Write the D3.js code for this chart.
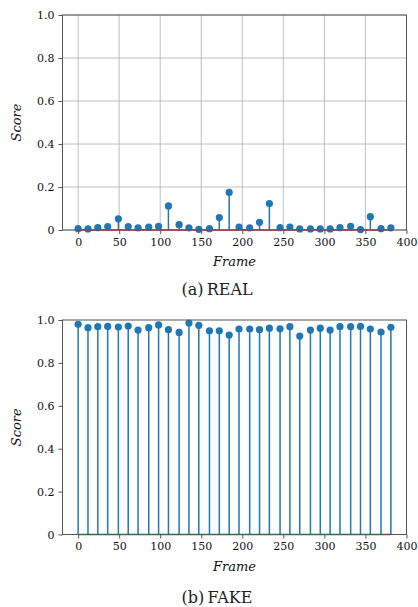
<!DOCTYPE html>
<html><head><meta charset="utf-8">
<script src="https://cdn.jsdelivr.net/npm/d3@7"></script>
<style>body{margin:0;background:#fff}svg{display:block}</style>
</head><body>
<script>
const frames = [0,12,24,36,49,61,73,86,98,110,123,135,147,160,172,184,196,209,221,233,246,258,270,283,295,307,319,332,344,356,369,381];
const realScores = [0.006,0.005,0.011,0.016,0.052,0.016,0.010,0.013,0.017,0.112,0.025,0.010,0.003,0.006,0.058,0.175,0.014,0.010,0.036,0.123,0.011,0.014,0.005,0.005,0.005,0.005,0.011,0.017,0.002,0.062,0.006,0.010];
const fakeScores = [0.980,0.964,0.969,0.970,0.967,0.972,0.953,0.964,0.977,0.955,0.942,0.986,0.975,0.950,0.950,0.930,0.958,0.958,0.955,0.962,0.959,0.969,0.925,0.953,0.962,0.953,0.969,0.969,0.970,0.958,0.944,0.966];
const xTicks = [0,50,100,150,200,250,300,350,400];
const yTicks = [0,0.2,0.4,0.6,0.8,1.0];
const panels = [
  {values: realScores, caption: "(a)\u2009REAL", grid: true, top: 15, bottom: 230, captionY: 295},
  {values: fakeScores, caption: "(b)\u2009FAKE", grid: false, top: 320, bottom: 534.5, captionY: 603}
];

const W = 418, H = 607;
const svg = d3.select("body").append("svg").attr("width", W).attr("height", H);
const left = 62.5, right = 406.5;
const font = "'DejaVu Serif', serif";
const blue = "#1f77b4", red = "#d62728";

panels.forEach(p => {
  const x = d3.scaleLinear().domain([-19.05, 400.05]).range([left, right]);
  const y = d3.scaleLinear().domain([0, 1]).range([p.bottom, p.top]);
  const g = svg.append("g");

  if (p.grid) {
    g.selectAll(".vg").data(xTicks).join("line")
      .attr("x1", d => x(d)).attr("x2", d => x(d)).attr("y1", p.top).attr("y2", p.bottom)
      .attr("stroke", "#b0b0b0").attr("stroke-width", 0.8);
    g.selectAll(".hg").data(yTicks).join("line")
      .attr("x1", left).attr("x2", right).attr("y1", d => y(d)).attr("y2", d => y(d))
      .attr("stroke", "#b0b0b0").attr("stroke-width", 0.8);
  }

  g.selectAll(".stem").data(frames).join("line")
    .attr("x1", d => x(d)).attr("x2", d => x(d))
    .attr("y1", y(0)).attr("y2", (d, i) => y(p.values[i]))
    .attr("stroke", blue).attr("stroke-width", 1.5);
  g.append("line").attr("x1", x(frames[0])).attr("x2", x(frames[frames.length - 1]))
    .attr("y1", y(0)).attr("y2", y(0)).attr("stroke", red).attr("stroke-width", 1.5);
  g.selectAll(".mk").data(frames).join("circle")
    .attr("cx", d => x(d)).attr("cy", (d, i) => y(p.values[i])).attr("r", 3.6)
    .attr("fill", blue);

  const spine = "#555";
  g.append("rect").attr("x", left).attr("y", p.top).attr("width", right - left).attr("height", p.bottom - p.top)
    .attr("fill", "none").attr("stroke", spine).attr("stroke-width", 1);

  const xa = g.append("g").attr("transform", `translate(0,${p.bottom})`)
    .call(d3.axisBottom(x).tickValues(xTicks).tickSize(4).tickPadding(4).tickFormat(d3.format("d")));
  const ya = g.append("g").attr("transform", `translate(${left},0)`)
    .call(d3.axisLeft(y).tickValues(yTicks).tickSize(4).tickPadding(4).tickFormat(d => d === 0 ? "0" : d3.format(".1f")(d)));
  [xa, ya].forEach(a => {
    a.select(".domain").remove();
    a.selectAll(".tick line").attr("stroke", spine);
    a.selectAll("text").attr("font-family", font).attr("font-size", 11).attr("fill", "#111");
  });

  g.append("text").attr("x", (left + right) / 2).attr("y", p.bottom + 36)
    .attr("text-anchor", "middle").attr("font-family", font).attr("font-style", "italic")
    .attr("font-size", 13).attr("fill", "#111").text("Frame");
  g.append("text").attr("transform", `translate(21,${(p.top + p.bottom) / 2}) rotate(-90)`)
    .attr("text-anchor", "middle").attr("font-family", font).attr("font-style", "italic")
    .attr("font-size", 13).attr("fill", "#111").text("Score");
  svg.append("text").attr("x", 217).attr("y", p.captionY)
    .attr("text-anchor", "middle").attr("font-family", font)
    .attr("font-size", 16).attr("fill", "#222").text(p.caption);
});
</script>
</body></html>
